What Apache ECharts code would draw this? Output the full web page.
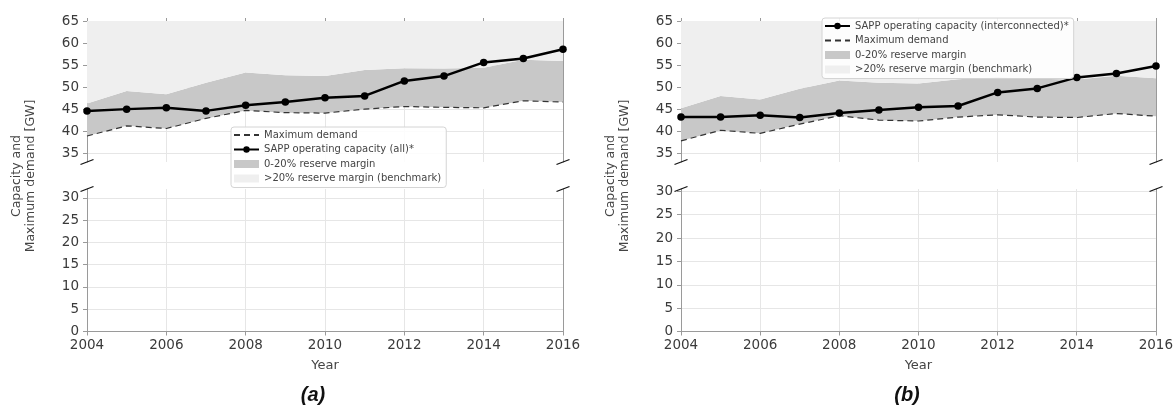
<!DOCTYPE html>
<html><head><meta charset="utf-8">
<script src="https://cdn.jsdelivr.net/npm/echarts@6/dist/echarts.min.js"></script>
<style>html,body{margin:0;padding:0;background:#fff}#c{width:1176px;height:413px}</style>
</head><body><div id="c"></div>
<script>
// ---- data ----
const years = ['2004','2005','2006','2007','2008','2009','2010','2011','2012','2013','2014','2015','2016'];
const capacityAll   = [44.6,45.0,45.3,44.6,45.9,46.6,47.6,48.0,51.4,52.5,55.6,56.5,58.6];
const demandA       = [38.9,41.2,40.6,42.9,44.7,44.2,44.1,45.0,45.6,45.4,45.3,46.9,46.6];
const marginTopA    = [46.3,49.1,48.4,51.0,53.3,52.7,52.5,53.9,54.3,54.2,54.4,56.2,55.9];
const capacityInter = [43.2,43.2,43.6,43.1,44.1,44.8,45.4,45.7,48.8,49.7,52.2,53.1,54.8];
const demandB       = [37.8,40.2,39.5,41.6,43.5,42.5,42.3,43.2,43.7,43.2,43.1,44.0,43.4];
const marginTopB    = [45.2,48.0,47.2,49.6,51.5,51.0,50.8,51.8,52.3,51.9,51.7,52.6,52.0];
const yTicksTop    = [35,40,45,50,55,60,65];
const yTicksBottom = [0,5,10,15,20,25,30];

const nameDemand = 'Maximum demand';
const nameCapAll = 'SAPP operating capacity (all)*';
const nameCapInter = 'SAPP operating capacity (interconnected)*';
const nameBand = '0-20% reserve margin';
const nameBench = '>20% reserve margin (benchmark)';

// ---- layout / style ----
const FONT = '"DejaVu Sans", sans-serif';
const SPINE = '#9a9a9a';
const GRIDC = '#e6e6e6';
const BAND = '#c8c8c8';
const LIGHT = '#efefef';
const TOP_MIN = 33, TOP_MAX = 65;

const panels = [
  {left: 87, width: 476, cap: capacityAll, capName: nameCapAll, demand: demandA, upper: marginTopA, bottomMax: 32,
   legend: {left: 231, top: 127}, order: [nameDemand, nameCapAll], ylabX: 24, tagX: 313},
  {left: 681, width: 475, cap: capacityInter, capName: nameCapInter, demand: demandB, upper: marginTopB, bottomMax: 30.5,
   legend: {left: 822, top: 18}, order: [nameCapInter, nameDemand], ylabX: 618, tagX: 907}
];
const TOP = {top: 21, height: 141};
const BOT = {top: 189, height: 142.5};

const grid = [], xAxis = [], yAxis = [], series = [], legend = [], graphic = [];
const tickLabel = {fontFamily: FONT, fontSize: 13.5, color: '#3a3a3a'};

panels.forEach((p, i) => {
  grid.push({left: p.left, width: p.width, top: TOP.top, height: TOP.height, containLabel: false});
  grid.push({left: p.left, width: p.width, top: BOT.top, height: BOT.height, containLabel: false});
  const gTop = 2 * i, gBot = 2 * i + 1;
  // x axes
  xAxis.push({type: 'category', gridIndex: gTop, data: years, boundaryGap: false, position: 'top',
    axisLine: {show: true, lineStyle: {color: SPINE, width: 1}},
    axisTick: {show: true, interval: 1, length: 3, lineStyle: {color: SPINE}},
    axisLabel: {show: false},
    splitLine: {show: true, interval: 1, lineStyle: {color: GRIDC, width: 1}}});
  xAxis.push({type: 'category', gridIndex: gBot, data: years, boundaryGap: false, position: 'bottom',
    axisLine: {show: true, lineStyle: {color: SPINE, width: 1}},
    axisTick: {show: true, interval: 1, length: 4, lineStyle: {color: SPINE}},
    axisLabel: Object.assign({interval: 1, margin: 7}, tickLabel),
    splitLine: {show: true, interval: 1, lineStyle: {color: GRIDC, width: 1}},
    name: 'Year', nameLocation: 'middle', nameGap: 28,
    nameTextStyle: {fontFamily: FONT, fontSize: 13, color: '#444'}});
  // y axes: top-left, top-right, bottom-left, bottom-right
  yAxis.push({type: 'value', gridIndex: gTop, position: 'left', min: TOP_MIN, max: TOP_MAX,
    axisLine: {show: true, lineStyle: {color: SPINE}},
    axisTick: {show: true, length: 4, customValues: yTicksTop, lineStyle: {color: SPINE}},
    axisLabel: Object.assign({customValues: yTicksTop, margin: 8}, tickLabel),
    splitLine: {show: true, lineStyle: {color: GRIDC}}});
  yAxis.push({type: 'value', gridIndex: gTop, position: 'right', min: TOP_MIN, max: TOP_MAX,
    axisLine: {show: true, lineStyle: {color: SPINE}}, axisTick: {show: false}, axisLabel: {show: false}, splitLine: {show: false}});
  yAxis.push({type: 'value', gridIndex: gBot, position: 'left', min: 0, max: p.bottomMax,
    axisLine: {show: true, lineStyle: {color: SPINE}},
    axisTick: {show: true, length: 4, customValues: yTicksBottom, lineStyle: {color: SPINE}},
    axisLabel: Object.assign({customValues: yTicksBottom, margin: 8}, tickLabel),
    splitLine: {show: true, lineStyle: {color: GRIDC}}});
  yAxis.push({type: 'value', gridIndex: gBot, position: 'right', min: 0, max: p.bottomMax,
    axisLine: {show: true, lineStyle: {color: SPINE}}, axisTick: {show: false}, axisLabel: {show: false}, splitLine: {show: false}});

  const xi = 2 * i, yi = 4 * i;
  const stack = 'band' + i;
  const bandWidth = p.upper.map((u, k) => +(u - p.demand[k]).toFixed(2));
  const benchWidth = p.upper.map(u => +(TOP_MAX - u).toFixed(2));
  series.push({type: 'line', name: 'base' + i, xAxisIndex: xi, yAxisIndex: yi, stack, data: p.demand,
    symbol: 'none', lineStyle: {width: 0, opacity: 0}, silent: true, z: 1});
  series.push({type: 'line', name: nameBand, xAxisIndex: xi, yAxisIndex: yi, stack, data: bandWidth,
    symbol: 'none', lineStyle: {width: 0, opacity: 0}, itemStyle: {color: BAND},
    areaStyle: {color: BAND, opacity: 1}, silent: true, z: 1});
  series.push({type: 'line', name: nameBench, xAxisIndex: xi, yAxisIndex: yi, stack, data: benchWidth,
    symbol: 'none', lineStyle: {width: 0, opacity: 0}, itemStyle: {color: LIGHT},
    areaStyle: {color: LIGHT, opacity: 1}, silent: true, z: 1});
  series.push({type: 'line', name: nameDemand, xAxisIndex: xi, yAxisIndex: yi, data: p.demand,
    symbol: 'none', itemStyle: {color: '#333'},
    lineStyle: {color: '#333', width: 1.2, type: [6, 4]}, z: 3});
  series.push({type: 'line', name: p.capName, xAxisIndex: xi, yAxisIndex: yi, data: p.cap,
    symbol: 'circle', symbolSize: 7.5, itemStyle: {color: '#000'},
    lineStyle: {color: '#000', width: 2.5}, z: 4});

  const legendItems = p.order.map(n => n === nameDemand
    ? {name: n, itemStyle: {color: 'rgba(0,0,0,0)', borderWidth: 0, opacity: 0}}
    : {name: n});
  legend.push({orient: 'vertical', left: p.legend.left, top: p.legend.top,
    data: legendItems.concat([{name: nameBand, icon: 'rect'}, {name: nameBench, icon: 'rect'}]),
    itemWidth: 25, itemHeight: 8, itemGap: 2.5,
    padding: [2, 5, 3, 2],
    backgroundColor: 'rgba(255,255,255,0.85)', borderColor: '#d4d4d4', borderWidth: 1, borderRadius: 3,
    textStyle: {fontFamily: FONT, fontSize: 10, color: '#444', lineHeight: 12},
    selectedMode: false, z: 10});

  // axis label and panel tag
  graphic.push({type: 'text', x: p.ylabX, y: 176, rotation: Math.PI / 2,
    style: {text: 'Capacity and\nMaximum demand [GW]', textAlign: 'center', textVerticalAlign: 'middle',
      font: '12.5px ' + FONT, fill: '#444', lineHeight: 14}});
  graphic.push({type: 'text', x: p.tagX, y: 395,
    style: {text: i === 0 ? '(a)' : '(b)', textAlign: 'center', textVerticalAlign: 'middle',
      font: 'italic bold 20px "Liberation Sans", Arial, sans-serif', fill: '#111'}});
  // broken-axis marks
  const xs = [p.left, p.left + p.width];
  const ys = [TOP.top + TOP.height, BOT.top];
  xs.forEach(x => ys.forEach(y => {
    graphic.push({type: 'line', shape: {x1: x - 6.5, y1: y + 2.5, x2: x + 6.5, y2: y - 2.5},
      style: {stroke: '#111', lineWidth: 1.3}, z: 20});
  }));
});

const chart = echarts.init(document.getElementById('c'), null, {renderer: 'canvas'});
chart.setOption({backgroundColor: '#fff', animation: false, grid, xAxis, yAxis, series, legend, graphic});
</script></body></html>
